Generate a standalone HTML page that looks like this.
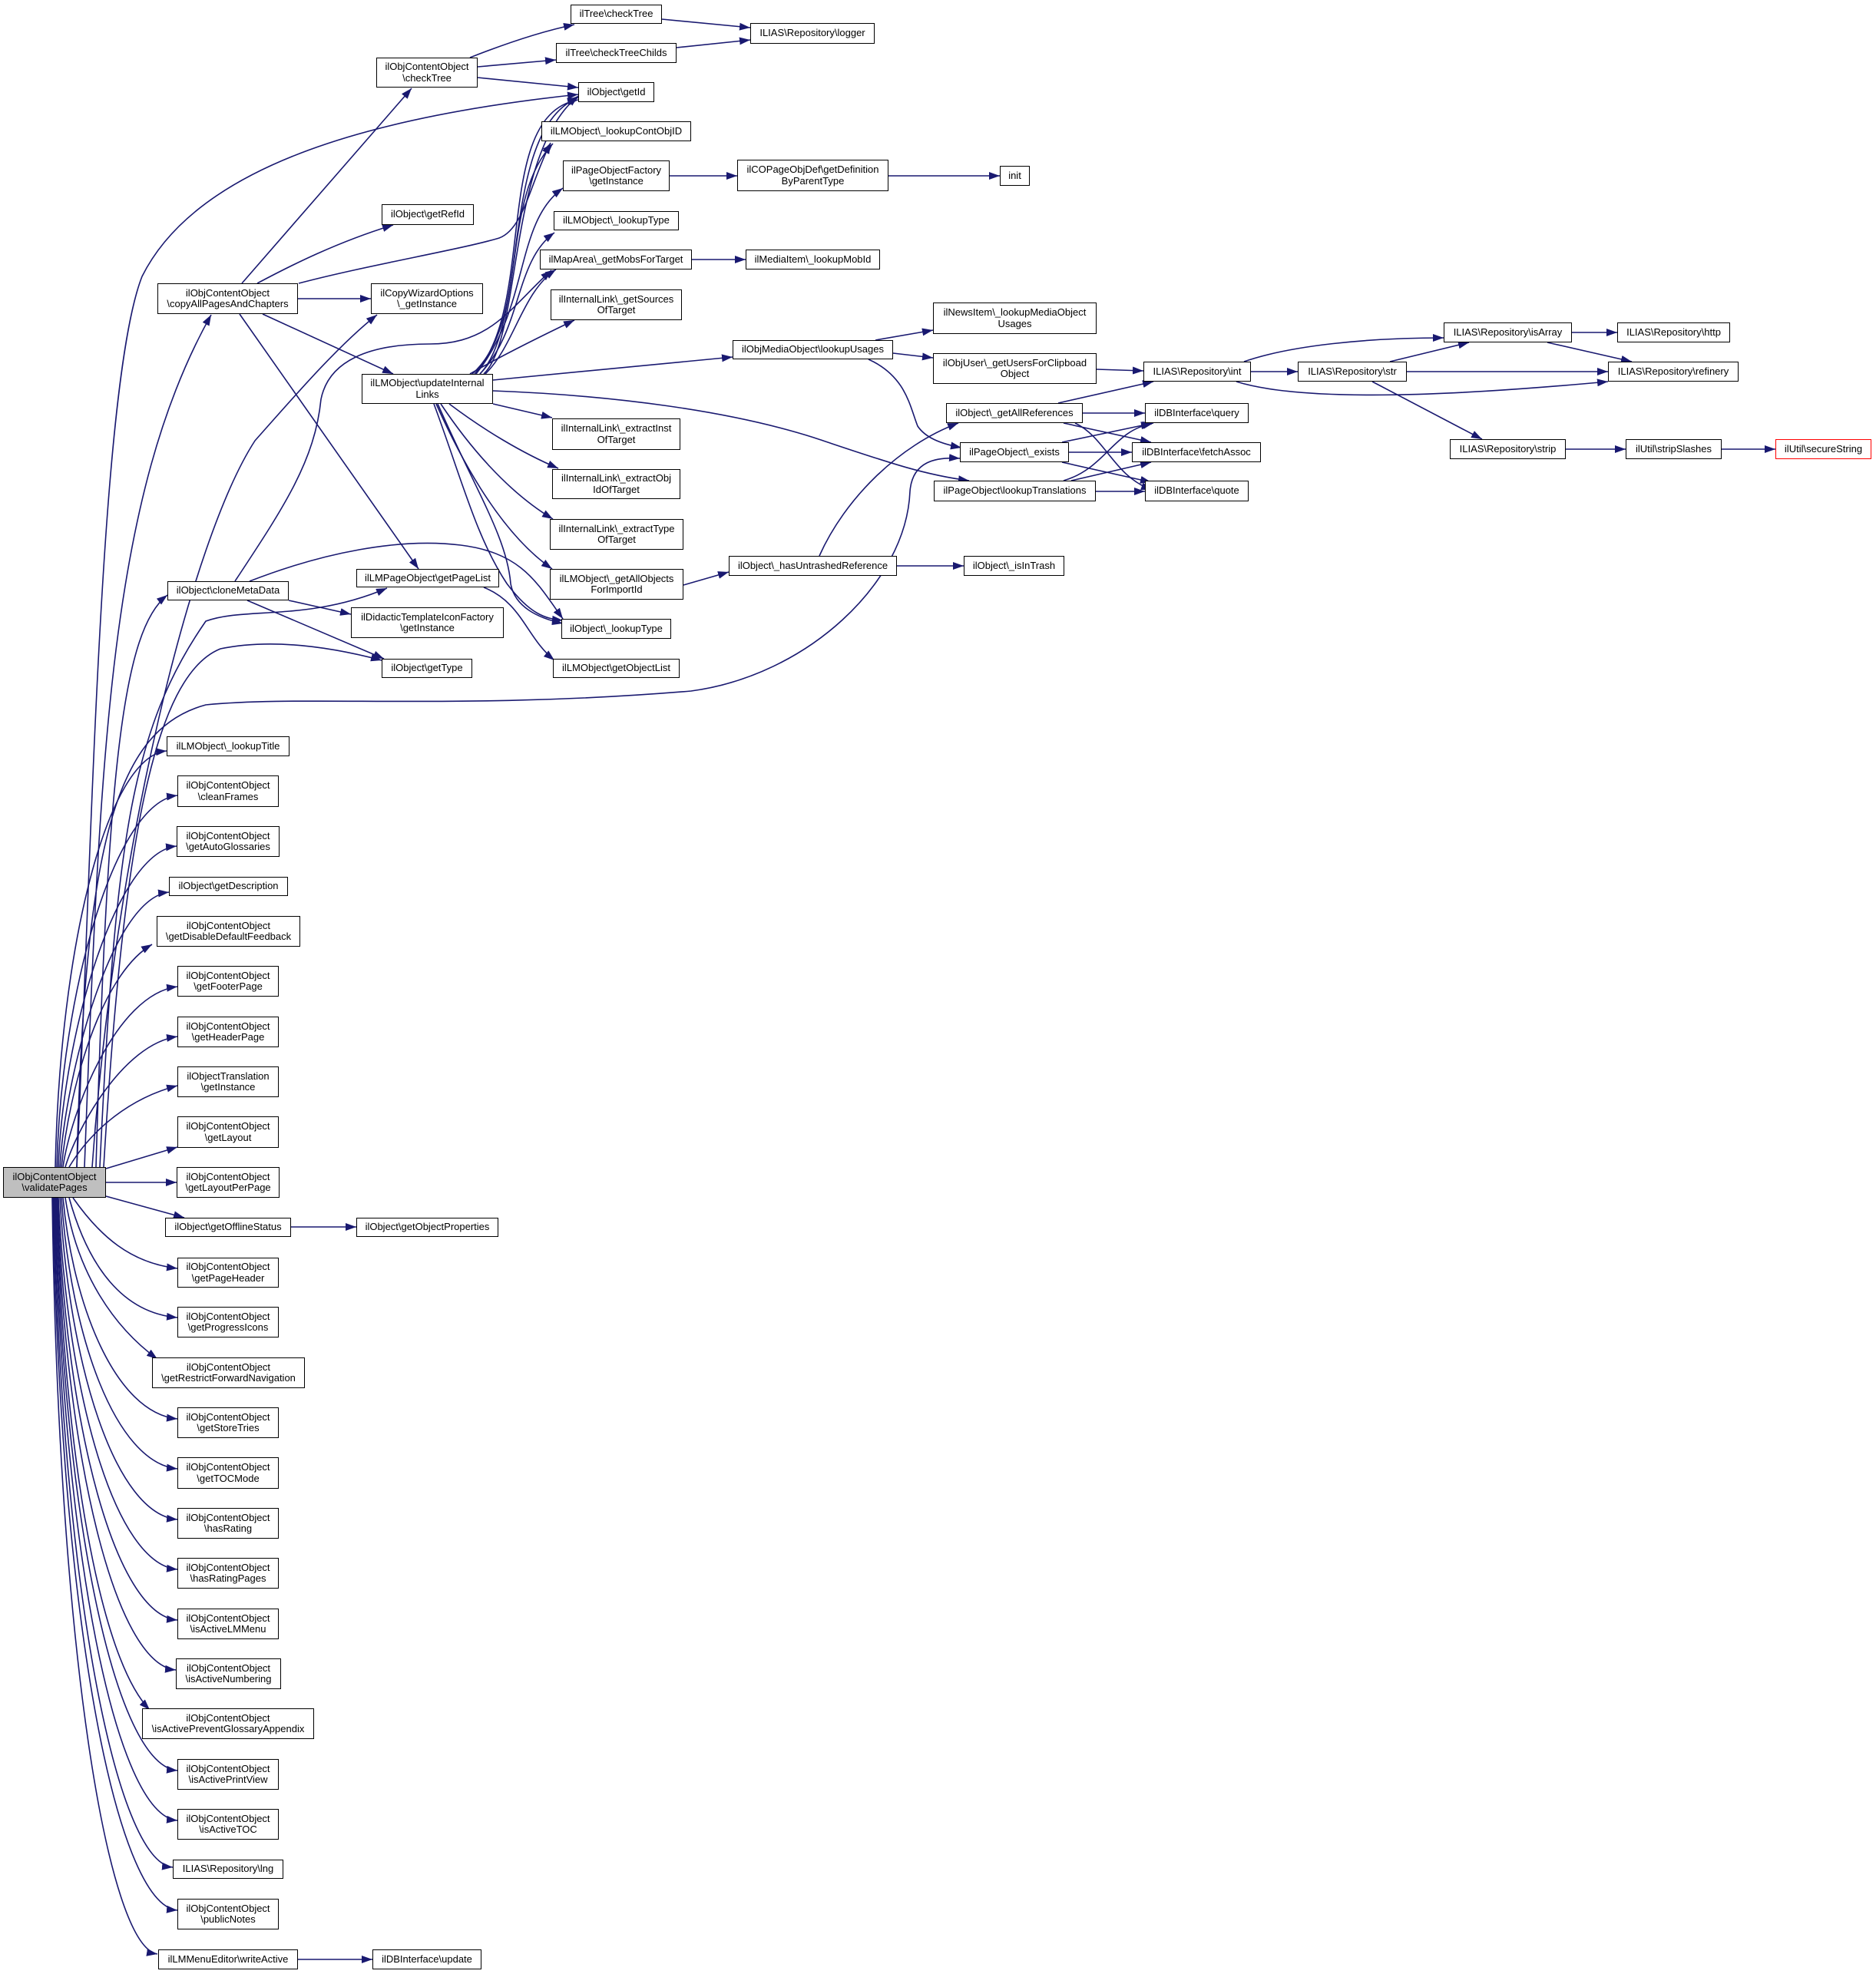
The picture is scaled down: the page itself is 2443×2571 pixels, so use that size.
<!DOCTYPE html>
<html><head><meta charset="utf-8"><style>
html,body{margin:0;padding:0;background:#fff}
#w{position:relative;width:2443px;height:2571px;overflow:hidden;background:#fff}
svg{position:absolute;left:0;top:0}
.n{position:absolute;box-sizing:border-box;border:1.5px solid #000;background:#fff;display:flex;align-items:center;justify-content:center;text-align:center;font-family:"Liberation Sans",Arial,sans-serif;font-size:13px;line-height:14.5px;color:#000;white-space:nowrap}
</style></head><body><div id="w">
<svg width="2443" height="2571" viewBox="0 0 2443 2571">
<defs><marker id="a" markerWidth="14" markerHeight="10" refX="14" refY="5" orient="auto" markerUnits="userSpaceOnUse"><path d="M0,0 L14,5 L0,10 z" fill="#191970"/></marker></defs>
<g fill="none" stroke="#191970" stroke-width="1.6" marker-end="url(#a)">
<path d="M315,369 L536,115"/>
<path d="M335,369 C380,345 440,315 512,293"/>
<path d="M389,369 C480,345 600,325 650,310 C682,298 690,240 717,186"/>
<path d="M388,389 L483,389"/>
<path d="M342,409 L512,487"/>
<path d="M312,409 L545,741"/>
<path d="M612,75 C650,60 700,42 748,32"/>
<path d="M622,87 L724,78"/>
<path d="M622,101 L753,114"/>
<path d="M862,25 L977,36"/>
<path d="M881,62 L977,52"/>
<path d="M100,1520 C120,1100 130,500 185,360 C260,210 500,150 753,123"/>
<path d="M110,1520 C130,1000 140,650 275,410"/>
<path d="M120,1520 C150,1100 250,700 332,574 C380,520 440,450 491,410"/>
<path d="M125,1520 C140,1000 160,820 218,775"/>
<path d="M130,1520 C150,1100 170,950 268,809 C320,790 400,810 504,766"/>
<path d="M135,1520 C160,1100 200,880 287,845 C360,830 440,845 497,860"/>
<path d="M100,1520 C110,1100 150,950 268,918 C400,905 600,925 900,900 C1050,880 1180,760 1185,640 C1188,600 1220,595 1250,597"/>
<path d="M630,487 C680,440 660,200 753,125"/>
<path d="M625,487 C690,420 650,170 753,127"/>
<path d="M618,487 C700,400 640,150 753,130"/>
<path d="M615,487 C690,420 650,260 720,187"/>
<path d="M620,487 C690,400 670,290 733,245"/>
<path d="M625,487 C680,430 670,340 722,303"/>
<path d="M632,487 C670,450 680,380 724,351"/>
<path d="M612,487 C650,465 700,440 748,417"/>
<path d="M642,495 L954,465"/>
<path d="M642,509 C800,515 950,535 1060,570 C1150,600 1200,618 1262,626"/>
<path d="M642,526 L719,544"/>
<path d="M585,526 C630,560 680,590 727,610"/>
<path d="M574,526 C610,580 660,640 720,676"/>
<path d="M568,526 C610,620 660,700 719,741"/>
<path d="M565,526 C600,620 620,700 660,760 C690,800 710,806 733,808"/>
<path d="M570,526 C620,640 660,700 665,760 C670,790 700,805 733,812"/>
<path d="M306,757 C370,660 410,600 418,520 C428,470 480,448 560,448 C640,448 665,400 718,352"/>
<path d="M325,757 C420,720 520,700 600,710 C680,720 700,760 733,806"/>
<path d="M376,782 L457,800"/>
<path d="M322,782 L500,858"/>
<path d="M630,765 C680,785 685,830 722,860"/>
<path d="M872,229 L960,229"/>
<path d="M1157,229 L1302,229"/>
<path d="M901,338 L971,338"/>
<path d="M1140,443 L1215,430"/>
<path d="M1163,460 L1215,466"/>
<path d="M1131,468 C1180,490 1185,530 1195,555 C1205,570 1225,578 1252,583"/>
<path d="M1428,481 L1489,483"/>
<path d="M890,762 L949,745"/>
<path d="M1067,724 C1100,650 1170,580 1248,551"/>
<path d="M1168,737 L1255,737"/>
<path d="M1378,525 L1502,497"/>
<path d="M1410,538 L1491,538"/>
<path d="M1385,551 L1499,576"/>
<path d="M1400,551 C1440,570 1450,620 1500,638"/>
<path d="M1383,576 L1502,551"/>
<path d="M1392,589 L1474,589"/>
<path d="M1383,602 L1499,628"/>
<path d="M1385,626 C1440,610 1450,560 1500,552"/>
<path d="M1395,626 L1499,602"/>
<path d="M1427,640 L1491,640"/>
<path d="M1620,471 C1680,450 1780,440 1880,440"/>
<path d="M1629,484 L1690,484"/>
<path d="M1610,497 C1700,525 1900,515 2094,497"/>
<path d="M1810,471 L1913,446"/>
<path d="M1832,484 L2094,484"/>
<path d="M1787,497 L1930,572"/>
<path d="M2047,433 L2106,433"/>
<path d="M2015,446 L2125,471"/>
<path d="M2039,585 L2117,585"/>
<path d="M2242,585 L2312,585"/>
<path d="M379,1598 L464,1598"/>
<path d="M388,2552 L485,2552"/>
<path d="M72,1520 C78,1230 140,985 217,978"/>
<path d="M74,1520 C80,1290 150,1045 231,1036"/>
<path d="M76,1520 C82,1350 150,1110 230,1102"/>
<path d="M78,1520 C85,1400 145,1170 220,1162"/>
<path d="M80,1520 C90,1420 130,1270 198,1230"/>
<path d="M82,1520 C92,1450 150,1295 231,1285"/>
<path d="M85,1520 C100,1470 160,1360 231,1350"/>
<path d="M90,1520 C120,1470 170,1430 231,1414"/>
<path d="M138,1522 L231,1494"/>
<path d="M138,1540 L230,1540"/>
<path d="M138,1558 L240,1586"/>
<path d="M95,1560 C130,1610 170,1645 231,1652"/>
<path d="M90,1560 C115,1650 160,1710 231,1716"/>
<path d="M85,1560 C100,1660 150,1730 205,1770"/>
<path d="M82,1560 C95,1700 150,1840 231,1848"/>
<path d="M80,1560 C92,1740 150,1905 231,1913"/>
<path d="M78,1560 C90,1780 150,1972 231,1979"/>
<path d="M76,1560 C88,1820 150,2037 231,2044"/>
<path d="M75,1560 C86,1860 150,2103 231,2110"/>
<path d="M74,1560 C85,1900 150,2168 229,2175"/>
<path d="M73,1560 C84,1900 130,2160 195,2227"/>
<path d="M72,1560 C83,1980 150,2299 231,2306"/>
<path d="M71,1560 C82,2020 150,2364 231,2371"/>
<path d="M70,1560 C80,2060 150,2425 225,2432"/>
<path d="M69,1560 C78,2100 150,2481 231,2488"/>
<path d="M68,1560 C76,2150 140,2535 205,2545"/>
</g></svg>
<div class="n" style="left:743px;top:6px;width:119px;height:25px">ilTree\checkTree</div>
<div class="n" style="left:724px;top:56px;width:157px;height:26px">ilTree\checkTreeChilds</div>
<div class="n" style="left:977px;top:30px;width:162px;height:27px">ILIAS\Repository\logger</div>
<div class="n" style="left:490px;top:75px;width:132px;height:39px">ilObjContentObject<br>\checkTree</div>
<div class="n" style="left:753px;top:107px;width:99px;height:26px">ilObject\getId</div>
<div class="n" style="left:705px;top:158px;width:195px;height:26px">ilLMObject\_lookupContObjID</div>
<div class="n" style="left:733px;top:209px;width:139px;height:40px">ilPageObjectFactory<br>\getInstance</div>
<div class="n" style="left:960px;top:208px;width:197px;height:41px">ilCOPageObjDef\getDefinition<br>ByParentType</div>
<div class="n" style="left:1302px;top:216px;width:39px;height:26px">init</div>
<div class="n" style="left:497px;top:266px;width:120px;height:27px">ilObject\getRefId</div>
<div class="n" style="left:721px;top:275px;width:163px;height:25px">ilLMObject\_lookupType</div>
<div class="n" style="left:703px;top:325px;width:198px;height:26px">ilMapArea\_getMobsForTarget</div>
<div class="n" style="left:971px;top:325px;width:175px;height:26px">ilMediaItem\_lookupMobId</div>
<div class="n" style="left:205px;top:369px;width:183px;height:40px">ilObjContentObject<br>\copyAllPagesAndChapters</div>
<div class="n" style="left:483px;top:369px;width:146px;height:40px">ilCopyWizardOptions<br>\_getInstance</div>
<div class="n" style="left:717px;top:377px;width:171px;height:40px">ilInternalLink\_getSources<br>OfTarget</div>
<div class="n" style="left:1215px;top:394px;width:213px;height:41px">ilNewsItem\_lookupMediaObject<br>Usages</div>
<div class="n" style="left:1880px;top:420px;width:167px;height:26px">ILIAS\Repository\isArray</div>
<div class="n" style="left:2106px;top:420px;width:147px;height:26px">ILIAS\Repository\http</div>
<div class="n" style="left:954px;top:443px;width:209px;height:25px">ilObjMediaObject\lookupUsages</div>
<div class="n" style="left:1215px;top:460px;width:213px;height:40px">ilObjUser\_getUsersForClipboad<br>Object</div>
<div class="n" style="left:1489px;top:471px;width:140px;height:26px">ILIAS\Repository\int</div>
<div class="n" style="left:1690px;top:471px;width:142px;height:26px">ILIAS\Repository\str</div>
<div class="n" style="left:2094px;top:471px;width:170px;height:26px">ILIAS\Repository\refinery</div>
<div class="n" style="left:471px;top:487px;width:171px;height:39px">ilLMObject\updateInternal<br>Links</div>
<div class="n" style="left:1232px;top:525px;width:178px;height:26px">ilObject\_getAllReferences</div>
<div class="n" style="left:1491px;top:525px;width:135px;height:26px">ilDBInterface\query</div>
<div class="n" style="left:719px;top:545px;width:167px;height:41px">ilInternalLink\_extractInst<br>OfTarget</div>
<div class="n" style="left:1888px;top:572px;width:151px;height:26px">ILIAS\Repository\strip</div>
<div class="n" style="left:2117px;top:572px;width:125px;height:26px">ilUtil\stripSlashes</div>
<div class="n" style="left:2312px;top:572px;width:125px;height:26px;border-color:#f00">ilUtil\secureString</div>
<div class="n" style="left:1250px;top:576px;width:142px;height:26px">ilPageObject\_exists</div>
<div class="n" style="left:1474px;top:576px;width:168px;height:26px">ilDBInterface\fetchAssoc</div>
<div class="n" style="left:719px;top:611px;width:167px;height:39px">ilInternalLink\_extractObj<br>IdOfTarget</div>
<div class="n" style="left:1216px;top:626px;width:211px;height:27px">ilPageObject\lookupTranslations</div>
<div class="n" style="left:1491px;top:626px;width:135px;height:27px">ilDBInterface\quote</div>
<div class="n" style="left:716px;top:676px;width:174px;height:40px">ilInternalLink\_extractType<br>OfTarget</div>
<div class="n" style="left:949px;top:724px;width:219px;height:26px">ilObject\_hasUntrashedReference</div>
<div class="n" style="left:1255px;top:724px;width:131px;height:26px">ilObject\_isInTrash</div>
<div class="n" style="left:716px;top:741px;width:174px;height:40px">ilLMObject\_getAllObjects<br>ForImportId</div>
<div class="n" style="left:464px;top:741px;width:186px;height:24px">ilLMPageObject\getPageList</div>
<div class="n" style="left:218px;top:757px;width:158px;height:25px">ilObject\cloneMetaData</div>
<div class="n" style="left:457px;top:791px;width:199px;height:40px">ilDidacticTemplateIconFactory<br>\getInstance</div>
<div class="n" style="left:731px;top:806px;width:143px;height:26px">ilObject\_lookupType</div>
<div class="n" style="left:497px;top:858px;width:118px;height:25px">ilObject\getType</div>
<div class="n" style="left:720px;top:858px;width:165px;height:25px">ilLMObject\getObjectList</div>
<div class="n" style="left:217px;top:959px;width:160px;height:26px">ilLMObject\_lookupTitle</div>
<div class="n" style="left:231px;top:1010px;width:132px;height:41px">ilObjContentObject<br>\cleanFrames</div>
<div class="n" style="left:230px;top:1076px;width:134px;height:40px">ilObjContentObject<br>\getAutoGlossaries</div>
<div class="n" style="left:220px;top:1142px;width:155px;height:25px">ilObject\getDescription</div>
<div class="n" style="left:204px;top:1193px;width:187px;height:40px">ilObjContentObject<br>\getDisableDefaultFeedback</div>
<div class="n" style="left:231px;top:1258px;width:132px;height:40px">ilObjContentObject<br>\getFooterPage</div>
<div class="n" style="left:231px;top:1324px;width:132px;height:40px">ilObjContentObject<br>\getHeaderPage</div>
<div class="n" style="left:231px;top:1389px;width:132px;height:40px">ilObjectTranslation<br>\getInstance</div>
<div class="n" style="left:231px;top:1454px;width:132px;height:41px">ilObjContentObject<br>\getLayout</div>
<div class="n" style="left:230px;top:1520px;width:134px;height:40px">ilObjContentObject<br>\getLayoutPerPage</div>
<div class="n" style="left:4px;top:1520px;width:134px;height:40px;background:#bfbfbf">ilObjContentObject<br>\validatePages</div>
<div class="n" style="left:215px;top:1586px;width:164px;height:25px">ilObject\getOfflineStatus</div>
<div class="n" style="left:464px;top:1586px;width:185px;height:25px">ilObject\getObjectProperties</div>
<div class="n" style="left:231px;top:1638px;width:132px;height:39px">ilObjContentObject<br>\getPageHeader</div>
<div class="n" style="left:231px;top:1702px;width:132px;height:40px">ilObjContentObject<br>\getProgressIcons</div>
<div class="n" style="left:198px;top:1768px;width:199px;height:40px">ilObjContentObject<br>\getRestrictForwardNavigation</div>
<div class="n" style="left:231px;top:1833px;width:132px;height:40px">ilObjContentObject<br>\getStoreTries</div>
<div class="n" style="left:231px;top:1898px;width:132px;height:41px">ilObjContentObject<br>\getTOCMode</div>
<div class="n" style="left:231px;top:1964px;width:132px;height:40px">ilObjContentObject<br>\hasRating</div>
<div class="n" style="left:231px;top:2029px;width:132px;height:40px">ilObjContentObject<br>\hasRatingPages</div>
<div class="n" style="left:231px;top:2095px;width:132px;height:40px">ilObjContentObject<br>\isActiveLMMenu</div>
<div class="n" style="left:229px;top:2160px;width:137px;height:40px">ilObjContentObject<br>\isActiveNumbering</div>
<div class="n" style="left:185px;top:2225px;width:224px;height:40px">ilObjContentObject<br>\isActivePreventGlossaryAppendix</div>
<div class="n" style="left:231px;top:2291px;width:132px;height:40px">ilObjContentObject<br>\isActivePrintView</div>
<div class="n" style="left:231px;top:2356px;width:132px;height:40px">ilObjContentObject<br>\isActiveTOC</div>
<div class="n" style="left:225px;top:2422px;width:144px;height:25px">ILIAS\Repository\lng</div>
<div class="n" style="left:231px;top:2473px;width:132px;height:40px">ilObjContentObject<br>\publicNotes</div>
<div class="n" style="left:206px;top:2539px;width:182px;height:26px">ilLMMenuEditor\writeActive</div>
<div class="n" style="left:485px;top:2539px;width:142px;height:26px">ilDBInterface\update</div>
</div></body></html>
